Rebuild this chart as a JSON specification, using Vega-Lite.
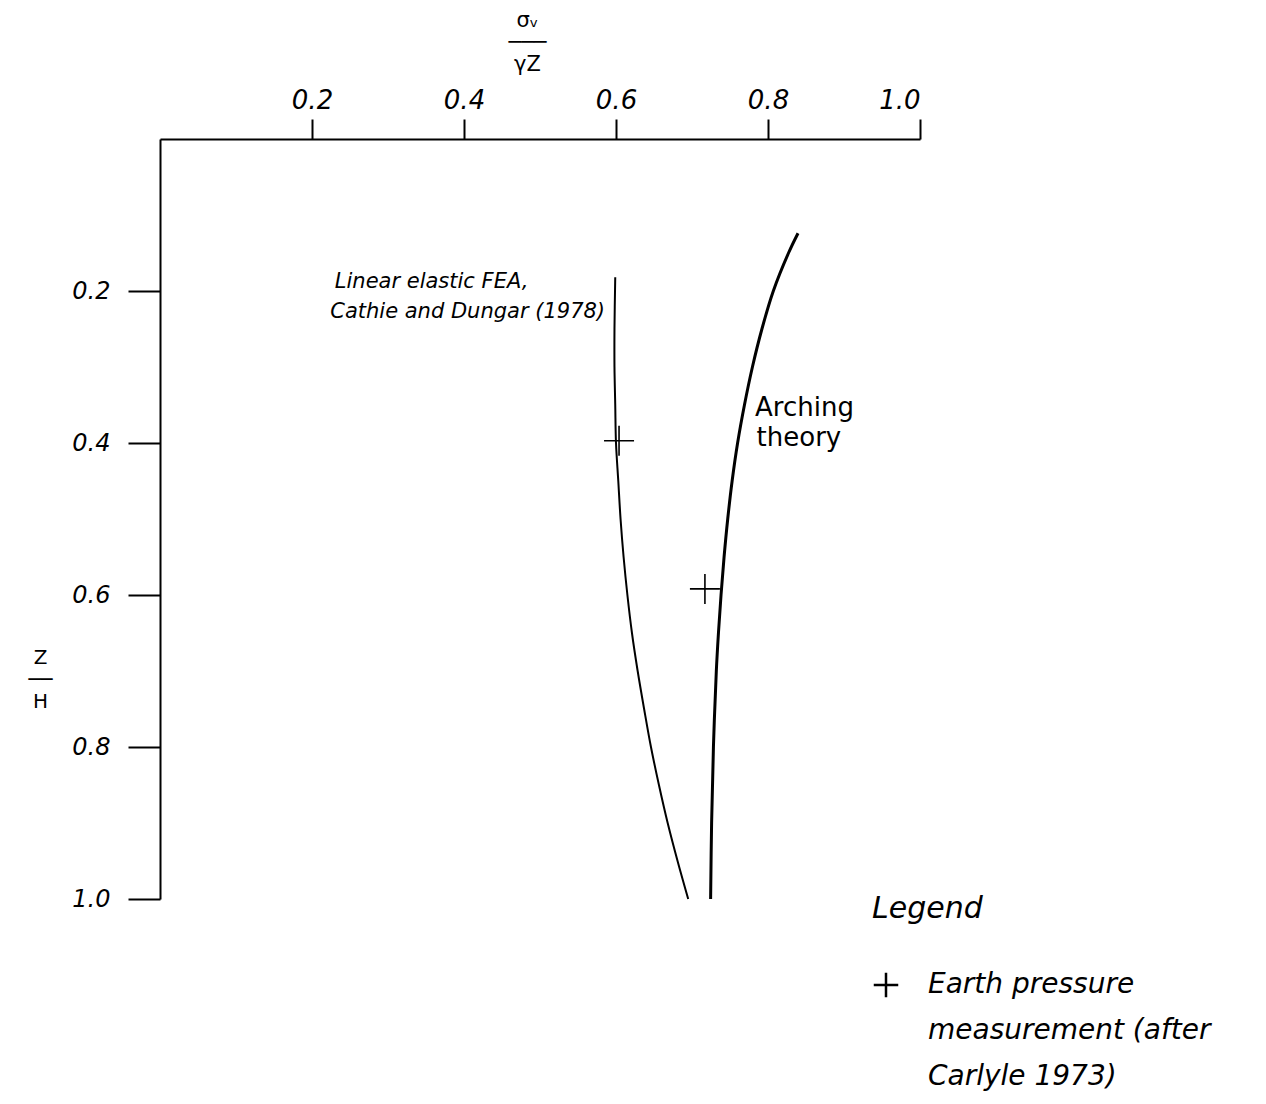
{
  "$schema": "https://vega.github.io/schema/vega-lite/v6.json",
  "autosize": "none",
  "width": 760,
  "height": 760,
  "padding": {"left": 160, "top": 139, "right": 346, "bottom": 205},
  "background": "white",
  "config": {
    "view": {"stroke": null},
    "font": "DejaVu Sans",
    "style": {"guide-label": {"lineHeight": 46}},
    "axis": {
      "grid": false,
      "domainColor": "black",
      "domainWidth": 2,
      "tickColor": "black",
      "tickWidth": 2,
      "labelColor": "black",
      "labelFont": "DejaVu Sans",
      "labelFontStyle": "italic",
      "titleColor": "black",
      "titleFont": "DejaVu Sans",
      "titleFontWeight": "normal"
    }
  },
  "datasets": {
    "curves": [
      {"curve": "Arching theory", "ratio": 0.8395, "depth": 0.124},
      {"curve": "Arching theory", "ratio": 0.8270, "depth": 0.15},
      {"curve": "Arching theory", "ratio": 0.8070, "depth": 0.20},
      {"curve": "Arching theory", "ratio": 0.7920, "depth": 0.25},
      {"curve": "Arching theory", "ratio": 0.7795, "depth": 0.30},
      {"curve": "Arching theory", "ratio": 0.7690, "depth": 0.35},
      {"curve": "Arching theory", "ratio": 0.7600, "depth": 0.40},
      {"curve": "Arching theory", "ratio": 0.7528, "depth": 0.45},
      {"curve": "Arching theory", "ratio": 0.7470, "depth": 0.50},
      {"curve": "Arching theory", "ratio": 0.7422, "depth": 0.55},
      {"curve": "Arching theory", "ratio": 0.7382, "depth": 0.60},
      {"curve": "Arching theory", "ratio": 0.7348, "depth": 0.65},
      {"curve": "Arching theory", "ratio": 0.7320, "depth": 0.70},
      {"curve": "Arching theory", "ratio": 0.7282, "depth": 0.80},
      {"curve": "Arching theory", "ratio": 0.7258, "depth": 0.90},
      {"curve": "Arching theory", "ratio": 0.7245, "depth": 1.00},
      {"curve": "Linear elastic FEA", "ratio": 0.599, "depth": 0.182},
      {"curve": "Linear elastic FEA", "ratio": 0.598, "depth": 0.25},
      {"curve": "Linear elastic FEA", "ratio": 0.598, "depth": 0.30},
      {"curve": "Linear elastic FEA", "ratio": 0.599, "depth": 0.35},
      {"curve": "Linear elastic FEA", "ratio": 0.600, "depth": 0.40},
      {"curve": "Linear elastic FEA", "ratio": 0.603, "depth": 0.45},
      {"curve": "Linear elastic FEA", "ratio": 0.606, "depth": 0.50},
      {"curve": "Linear elastic FEA", "ratio": 0.610, "depth": 0.55},
      {"curve": "Linear elastic FEA", "ratio": 0.615, "depth": 0.60},
      {"curve": "Linear elastic FEA", "ratio": 0.621, "depth": 0.65},
      {"curve": "Linear elastic FEA", "ratio": 0.6285, "depth": 0.70},
      {"curve": "Linear elastic FEA", "ratio": 0.637, "depth": 0.75},
      {"curve": "Linear elastic FEA", "ratio": 0.646, "depth": 0.80},
      {"curve": "Linear elastic FEA", "ratio": 0.6565, "depth": 0.85},
      {"curve": "Linear elastic FEA", "ratio": 0.668, "depth": 0.90},
      {"curve": "Linear elastic FEA", "ratio": 0.681, "depth": 0.95},
      {"curve": "Linear elastic FEA", "ratio": 0.695, "depth": 1.00}
    ],
    "measurements": [
      {"source": "Earth pressure measurement (after Carlyle 1973)", "ratio": 0.604, "depth": 0.397},
      {"source": "Earth pressure measurement (after Carlyle 1973)", "ratio": 0.717, "depth": 0.592}
    ],
    "fea_note": [
      {"text": "Linear elastic FEA,", "ratio": 0.230, "depth": 0.188},
      {"text": "Cathie and Dungar (1978)", "ratio": 0.224, "depth": 0.228}
    ],
    "arching_note": [
      {"text": "Arching", "ratio": 0.783, "depth": 0.354},
      {"text": "theory", "ratio": 0.785, "depth": 0.393}
    ]
  },
  "layer": [
    {
      "data": {"name": "curves"},
      "mark": {"type": "line", "interpolate": "catmull-rom", "color": "black"},
      "encoding": {
        "x": {
          "field": "ratio",
          "type": "quantitative",
          "scale": {"domain": [0, 1], "nice": false},
          "axis": {
            "orient": "top",
            "values": [0.2, 0.4, 0.6, 0.8, 1.0],
            "format": ".1f",
            "tickSize": 20,
            "labelPadding": 6,
            "labelFontSize": 26,
            "title": ["σᵥ", "───", "γZ"],
            "titleFontSize": 21,
            "titleLineHeight": 22,
            "titleX": 367,
            "titleY": -130,
            "titleAlign": "center",
            "titleBaseline": "top"
          }
        },
        "y": {
          "field": "depth",
          "type": "quantitative",
          "scale": {"domain": [0, 1], "nice": false, "reverse": true},
          "axis": {
            "orient": "left",
            "values": [0.2, 0.4, 0.6, 0.8, 1.0],
            "format": ".1f",
            "tickSize": 32,
            "labelPadding": 18,
            "labelFontSize": 24,
            "title": ["Z", "──", "H"],
            "titleAngle": 0,
            "titleFontSize": 20,
            "titleLineHeight": 22,
            "titleX": -120,
            "titleY": 508,
            "titleAlign": "center",
            "titleBaseline": "top"
          }
        },
        "detail": {"field": "curve"},
        "order": {"field": "depth", "type": "quantitative"},
        "strokeWidth": {
          "field": "curve",
          "type": "nominal",
          "scale": {"domain": ["Arching theory", "Linear elastic FEA"], "range": [3, 2]},
          "legend": null
        }
      }
    },
    {
      "data": {"name": "measurements"},
      "mark": {"type": "point", "filled": false, "stroke": "black", "strokeWidth": 1.6, "size": 900, "opacity": 1},
      "encoding": {
        "x": {"field": "ratio", "type": "quantitative"},
        "y": {"field": "depth", "type": "quantitative"},
        "shape": {
          "field": "source",
          "type": "nominal",
          "scale": {"range": ["M-1,0H1M0,-1V1"]},
          "legend": {
            "orient": "none",
            "legendX": 712,
            "legendY": 755,
            "padding": 0,
            "title": "Legend",
            "titleFont": "DejaVu Sans",
            "titleFontStyle": "italic",
            "titleFontWeight": "normal",
            "titleFontSize": 30,
            "titleColor": "black",
            "titlePadding": 47,
            "symbolSize": 600,
            "symbolStrokeWidth": 2.5,
            "symbolStrokeColor": "black",
            "symbolFillColor": "transparent",
            "labelExpr": "['Earth pressure', 'measurement (after', 'Carlyle 1973)']",
            "labelFont": "DejaVu Sans",
            "labelFontStyle": "italic",
            "labelFontSize": 28,
            "labelColor": "black",
            "labelLimit": 400,
            "labelOffset": 28
          }
        }
      }
    },
    {
      "data": {"name": "fea_note"},
      "mark": {"type": "text", "align": "left", "baseline": "middle", "fontSize": 21, "fontStyle": "italic", "color": "black"},
      "encoding": {
        "x": {"field": "ratio", "type": "quantitative"},
        "y": {"field": "depth", "type": "quantitative"},
        "text": {"field": "text"}
      }
    },
    {
      "data": {"name": "arching_note"},
      "mark": {"type": "text", "align": "left", "baseline": "middle", "fontSize": 26, "color": "black"},
      "encoding": {
        "x": {"field": "ratio", "type": "quantitative"},
        "y": {"field": "depth", "type": "quantitative"},
        "text": {"field": "text"}
      }
    }
  ]
}
